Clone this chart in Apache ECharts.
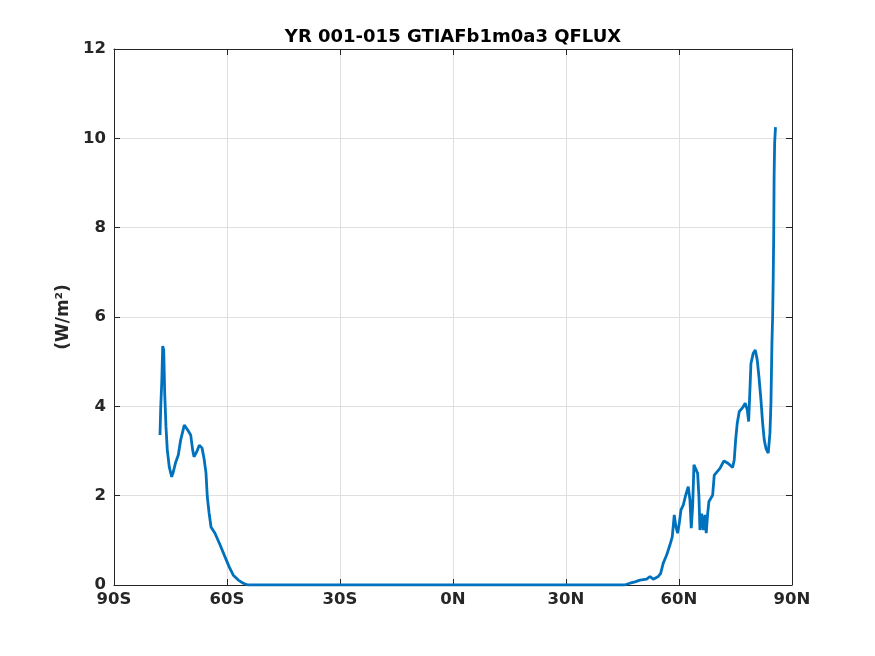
<!DOCTYPE html>
<html lang="en">
<head>
    <meta charset="UTF-8">
    <title>QFLUX</title>
    <script src="https://cdn.jsdelivr.net/npm/echarts@6/dist/echarts.min.js"></script>
    <style>
        html, body { margin: 0; padding: 0; background: #fff; }
    </style>
</head>
<body>
<div id='main' style='width:875px;height:656px;'></div>
<script>
    // 纬度（度）
    var lats = [-77.79, -77.6, -77.3, -77.07, -76.8, -76.54, -76.2, -75.85, -75.32, -74.68, -74.26,
        -73.62, -72.93, -72.29, -71.34, -70.44, -69.64, -69.11, -68.76, -68.05, -67.36, -66.64,
        -66.11, -65.58, -65.23, -64.78, -64.25, -63.19, -61.86, -60.53, -59.39, -58.33, -57.0,
        -55.68, -54.5, 0, 45.5, 46.98, 48.31, 49.64, 51.41, 52.29, 53.17, 54.49, 55.13, 55.82,
        56.72, 57.6, 58.21, 58.74, 59.19, 59.64, 60.07, 60.52, 61.13, 61.77, 62.46, 62.91, 63.25,
        63.62, 63.97, 64.5, 64.95, 65.29, 65.56, 66.01, 66.44, 66.89, 67.23, 67.61, 67.95, 68.48,
        68.93, 69.36, 70.15, 70.87, 71.93, 73.07, 74.24, 74.66, 75.04, 75.46, 75.99, 77.05, 77.58,
        78.12, 78.49, 78.83, 79.1, 79.71, 80.24, 80.77, 81.23, 81.76, 82.21, 82.63, 83.08, 83.69,
        84.14, 84.41, 84.67, 84.86, 85.02, 85.15, 85.25, 85.39, 85.62];
    // QFLUX (W/m2)
    var qflux = [3.36, 3.96, 4.59, 5.35, 5.26, 4.3, 3.54, 3.02, 2.64, 2.42, 2.53,
        2.75, 2.91, 3.25, 3.58, 3.47, 3.36, 3.02, 2.87, 2.98, 3.13, 3.07,
        2.84, 2.51, 1.97, 1.63, 1.3, 1.16, 0.9, 0.63, 0.4, 0.22, 0.11,
        0.04, 0.0, 0.0, 0.0, 0.04, 0.07, 0.11, 0.13, 0.19, 0.13, 0.19, 0.26, 0.49,
        0.67, 0.9, 1.08, 1.57, 1.3, 1.16, 1.38, 1.68, 1.79, 2.01, 2.2, 1.9, 1.27,
        1.75, 2.69, 2.65, 2.5, 1.98, 1.23, 1.6, 1.23, 1.57, 1.16, 1.6, 1.87, 1.9,
        2.01, 2.46, 2.54, 2.61, 2.78, 2.72, 2.63, 2.8, 3.25, 3.62, 3.88, 3.99, 4.07,
        3.92, 3.66, 4.37, 4.96, 5.19, 5.26, 5.04, 4.66, 4.14, 3.62, 3.25, 3.06, 2.95,
        3.4, 4.07, 5.41, 6.01, 6.9, 7.87, 9.14, 9.89, 10.25];
    // 刻度标签
    var xTicks = {'-90': '90S', '-60': '60S', '-30': '30S', '0': '0N', '30': '30N', '60': '60N', '90': '90N'};

    var points = [];
    for (var i = 0; i < lats.length; i++) {
        points.push([lats[i], qflux[i]]);
    }

    var axisColor = '#262626';
    var labelFont = {color: axisColor, fontSize: 16.5, fontWeight: 'bold', fontFamily: 'DejaVu Sans'};

    var myChart = echarts.init(document.getElementById('main'));
    var option = {
        backgroundColor: '#fff',
        animation: false,
        title: {
            text: 'YR 001-015 GTIAFb1m0a3 QFLUX',
            left: 448,
            top: 23,
            textAlign: 'center',
            textStyle: {color: '#000', fontSize: 18, fontWeight: 'bold', fontFamily: 'DejaVu Sans'}
        },
        grid: {left: 114, right: 83, top: 49, bottom: 71},
        xAxis: [{
            type: 'value', min: -90, max: 90, interval: 30,
            axisLine: {show: true, onZero: false, lineStyle: {color: axisColor, width: 1}},
            axisTick: {show: true, inside: true, length: 6, lineStyle: {color: axisColor}},
            axisLabel: Object.assign({margin: 6, formatter: function (v) { return xTicks[v]; }}, labelFont),
            splitLine: {show: true, lineStyle: {color: '#dfdfdf', width: 1}}
        }, {
            type: 'value', min: -90, max: 90, interval: 30, position: 'top',
            axisLine: {show: true, onZero: false, lineStyle: {color: axisColor, width: 1}},
            axisTick: {show: true, inside: true, length: 6, lineStyle: {color: axisColor}},
            axisLabel: {show: false},
            splitLine: {show: false}
        }],
        yAxis: [{
            type: 'value', min: 0, max: 12, interval: 2,
            name: '(W/m²)',
            nameLocation: 'middle',
            nameGap: 41,
            nameTextStyle: {color: axisColor, fontSize: 17, fontWeight: 'bold', fontFamily: 'DejaVu Sans'},
            axisLine: {show: true, onZero: false, lineStyle: {color: axisColor, width: 1}},
            axisTick: {show: true, inside: true, length: 6, lineStyle: {color: axisColor}},
            axisLabel: Object.assign({margin: 8}, labelFont),
            splitLine: {show: true, lineStyle: {color: '#dfdfdf', width: 1}}
        }, {
            type: 'value', min: 0, max: 12, interval: 2, position: 'right',
            axisLine: {show: true, onZero: false, lineStyle: {color: axisColor, width: 1}},
            axisTick: {show: true, inside: true, length: 6, lineStyle: {color: axisColor}},
            axisLabel: {show: false},
            splitLine: {show: false}
        }],
        series: [{
            type: 'line',
            data: points,
            showSymbol: false,
            lineStyle: {color: '#0072BD', width: 2.8},
            z: 5
        }]
    };
    myChart.setOption(option);
</script>
</body>
</html>
